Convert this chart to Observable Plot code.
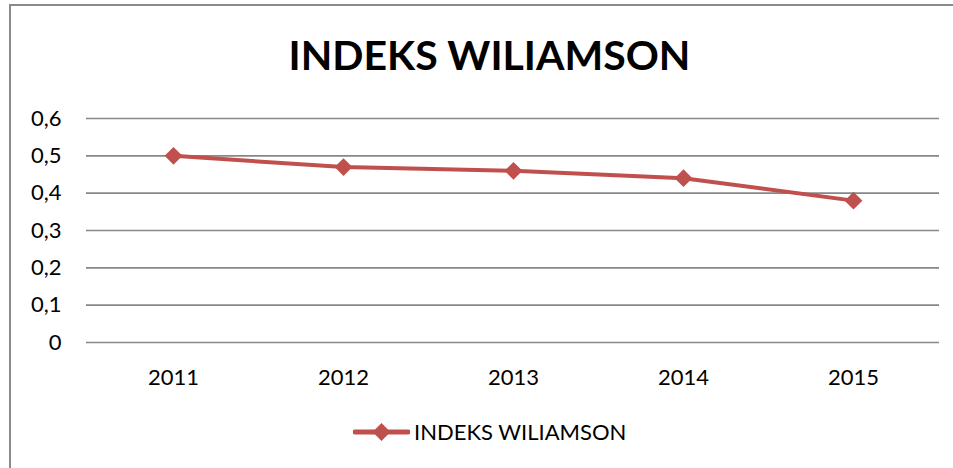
<!DOCTYPE html>
<html>
<head>
<meta charset="utf-8">
<script src="https://cdn.jsdelivr.net/npm/d3@7"></script>
<script src="https://cdn.jsdelivr.net/npm/@observablehq/plot@0.6"></script>
<style>
  html, body { margin: 0; padding: 0; background: #fff; }
  #wrap { position: relative; width: 953px; height: 468px; overflow: hidden; font-family: Lato, "Open Sans", sans-serif; }
  #frame { position: absolute; left: 9px; top: 4px; width: 960px; height: 480px; border-top: 2px solid #8a8a8a; border-left: 2px solid #8a8a8a; box-sizing: border-box; }
  #title { position: absolute; left: 0; top: 34px; width: 979px; text-align: center; font-weight: 700; font-size: 41px; line-height: 41px; color: #000; }
  #chart { position: absolute; left: 0; top: 0; }
  #legend { position: absolute; left: 353px; top: 420px; display: flex; align-items: center; font-size: 22px; line-height: 22px; color: #000; }
  #legend svg { margin-right: 4px; }
</style>
</head>
<body>
<div id="wrap">
  <div id="frame"></div>
  <div id="chart"></div>
  <div id="title"></div>
  <div id="legend"></div>
</div>
<script>
const title = "INDEKS WILIAMSON";
const seriesName = "INDEKS WILIAMSON";
const years = ["2011", "2012", "2013", "2014", "2015"];
const values = [0.50, 0.47, 0.46, 0.44, 0.38];
const yTicks = [0, 0.1, 0.2, 0.3, 0.4, 0.5, 0.6];
const yTickLabels = ["0", "0,1", "0,2", "0,3", "0,4", "0,5", "0,6"];
const lineColor = "#C0504D";

const data = years.map((y, i) => ({year: y, value: values[i]}));

document.getElementById("title").textContent = title;

const chart = Plot.plot({
  width: 953,
  height: 468,
  marginLeft: 86,
  marginRight: 14,
  marginTop: 118,
  marginBottom: 126,
  style: {fontFamily: "Lato, 'Open Sans', sans-serif", fontSize: "22px", color: "#000", background: "transparent"},
  x: {type: "point", domain: years, padding: 0.5, label: null},
  y: {domain: [0, 0.6], label: null},
  marks: [
    Plot.ruleY(yTicks, {stroke: "#878787", strokeWidth: 1.6, strokeOpacity: 1}),
    Plot.axisY({ticks: yTicks, tickSize: 0, tickPadding: 25, tickFormat: d => yTickLabels[yTicks.indexOf(d)], fontSize: 22, label: null}),
    Plot.axisX({tickSize: 0, tickPadding: 27, fontSize: 22, label: null}),
    Plot.line(data, {x: "year", y: "value", stroke: lineColor, strokeWidth: 4}),
    Plot.dot(data, {x: "year", y: "value", symbol: "diamond2", r: 8, fill: lineColor, stroke: "none"})
  ]
});
document.getElementById("chart").appendChild(chart);

// legend
const legend = document.getElementById("legend");
const ns = "http://www.w3.org/2000/svg";
const sw = document.createElementNS(ns, "svg");
sw.setAttribute("width", 57);
sw.setAttribute("height", 24);
const ln = document.createElementNS(ns, "line");
ln.setAttribute("x1", 2); ln.setAttribute("x2", 55);
ln.setAttribute("y1", 12); ln.setAttribute("y2", 12);
ln.setAttribute("stroke", lineColor); ln.setAttribute("stroke-width", 5);
ln.setAttribute("stroke-linecap", "round");
sw.appendChild(ln);
const dm = document.createElementNS(ns, "path");
dm.setAttribute("d", d3.symbol(d3.symbolDiamond2, Math.PI * 64)());
dm.setAttribute("transform", "translate(28.5,12)");
dm.setAttribute("fill", lineColor);
sw.appendChild(dm);
legend.appendChild(sw);
const lt = document.createElement("span");
lt.textContent = seriesName;
legend.appendChild(lt);
</script>
</body>
</html>
